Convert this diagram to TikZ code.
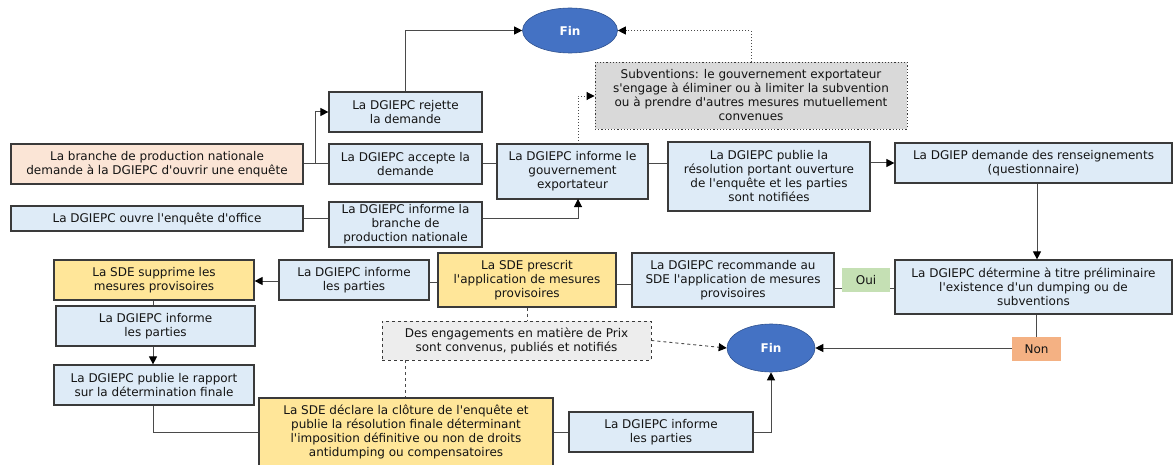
\documentclass[tikz,border=0pt]{standalone}
\usepackage{fontspec}
\newfontfamily\dvs{DejaVu Sans}
\usetikzlibrary{arrows.meta,shapes.geometric}
\definecolor{bluefill}{HTML}{DEEBF7}
\definecolor{orangefill}{HTML}{FBE5D6}
\definecolor{yellowfill}{HTML}{FFE699}
\definecolor{grayfill}{HTML}{D9D9D9}
\definecolor{lightgrayfill}{HTML}{EDEDED}
\definecolor{finblue}{HTML}{4472C4}
\definecolor{finborder}{HTML}{2F528F}
\definecolor{ouigreen}{HTML}{C5E0B4}
\definecolor{nonorange}{HTML}{F4B183}
\definecolor{bordergray}{HTML}{3A3A3A}
\definecolor{linegray}{HTML}{4A4A4A}
\definecolor{textgray}{HTML}{141414}
\tikzset{
  x=1pt, y=-1pt,
  box/.style={draw=bordergray, line width=1.2pt, fill=bluefill, align=center,
    inner sep=0pt, text=textgray,
    font=\dvs\fontsize{12}{14}\selectfont},
  orangebox/.style={box, fill=orangefill},
  yellowbox/.style={box, fill=yellowfill},
  subvbox/.style={box, fill=grayfill, dotted, line width=0.9pt},
  engbox/.style={box, fill=lightgrayfill, dashed, line width=0.9pt},
  finnode/.style={ellipse, fill=finblue, draw=finborder, line width=0.6pt,
    text=white, inner sep=0pt, font=\dvs\fontsize{12}{14}\selectfont\bfseries},
  tagnode/.style={inner sep=0pt, text=textgray, font=\dvs\fontsize{12}{14}\selectfont},
  conn/.style={draw=linegray, line width=1pt},
  tip/.style={-{Triangle[length=8pt,width=8pt,color=black]}},
  arr/.style={conn, tip},
  dotconn/.style={conn, dotted, line width=0.9pt},
  dashconn/.style={conn, dashed, line width=0.9pt},
}
\begin{document}
\begin{tikzpicture}
\useasboundingbox (0,0) rectangle (1174,465);

% boxes
\node[orangebox, minimum width=292pt, minimum height=40pt] (branche) at (157,164)
  {La branche de production nationale\\demande à la DGIEPC d'ouvrir une enquête};
\node[box, minimum width=292pt, minimum height=25pt] (office) at (157,218.5)
  {La DGIEPC ouvre l'enquête d'office};
\node[box, minimum width=153pt, minimum height=40pt] (rejette) at (405.5,112)
  {La DGIEPC rejette\\la demande};
\node[box, minimum width=153pt, minimum height=40pt] (accepte) at (405.5,164)
  {La DGIEPC accepte la\\demande};
\node[box, minimum width=153pt, minimum height=45pt] (infbranche) at (405.5,224.5)
  {La DGIEPC informe la\\branche de\\production nationale};
\node[finnode, minimum width=95pt, minimum height=45pt] (fin1) at (570,30.5) {Fin};
\node[subvbox, minimum width=312pt, minimum height=67pt] (subv) at (751,95.5)
  {Subventions: le gouvernement exportateur\\s'engage à éliminer ou à limiter la subvention\\ou à prendre d'autres mesures mutuellement\\convenues};
\node[box, minimum width=151pt, minimum height=55pt] (gouv) at (572.5,171.5)
  {La DGIEPC informe le\\gouvernement\\exportateur};
\node[box, minimum width=202pt, minimum height=69pt] (publie) at (769,176.5)
  {La DGIEPC publie la\\résolution portant ouverture\\de l'enquête et les parties\\sont notifiées};
\node[box, minimum width=277pt, minimum height=40pt] (renseign) at (1033.5,163)
  {La DGIEP demande des renseignements\\(questionnaire)};
\node[box, minimum width=277pt, minimum height=54pt] (determine) at (1033.5,287)
  {La DGIEPC détermine à titre préliminaire\\l'existence d'un dumping ou de\\subventions};
\node[box, minimum width=202pt, minimum height=54pt] (recommande) at (733,280)
  {La DGIEPC recommande au\\SDE l'application de mesures\\provisoires};
\node[yellowbox, minimum width=178pt, minimum height=54pt] (prescrit) at (527,280)
  {La SDE prescrit\\l'application de mesures\\provisoires};
\node[box, minimum width=150pt, minimum height=40pt] (infparties1) at (354,280)
  {La DGIEPC informe\\les parties};
\node[yellowbox, minimum width=200pt, minimum height=40pt] (supprime) at (154,280)
  {La SDE supprime les\\mesures provisoires};
\node[box, minimum width=199pt, minimum height=40pt] (infparties2) at (155.5,326)
  {La DGIEPC informe\\les parties};
\node[box, minimum width=200pt, minimum height=40pt] (rapport) at (154,385)
  {La DGIEPC publie le rapport\\sur la détermination finale};
\node[yellowbox, minimum width=294pt, minimum height=68pt] (declare) at (406,432)
  {La SDE déclare la clôture de l'enquête et\\publie la résolution finale déterminant\\l'imposition définitive ou non de droits\\antidumping ou compensatoires};
\node[engbox, minimum width=269pt, minimum height=39pt] (engage) at (516.5,340.5)
  {Des engagements en matière de Prix\\sont convenus, publiés et notifiés};
\node[box, minimum width=184pt, minimum height=40pt] (infparties3) at (661,432)
  {La DGIEPC informe\\les parties};
\node[finnode, minimum width=88pt, minimum height=48pt] (fin2) at (771,348) {Fin};

% connectors
\coordinate (split) at (315,164);
\draw[conn] (branche.east) -- (accepte.west);
\draw[arr] (split) |- (rejette.west);
\draw[conn] (office.east) -- (office.east -| infbranche.west);
\draw[arr] (rejette.north) |- (fin1.west);
\draw[conn] (accepte.east) -- (accepte.east -| gouv.west);
\coordinate (gx) at (578,199);
\draw[arr] (infbranche.east |- office.east) -| (gx);
\coordinate (gtop) at (578,144);
\draw[dotconn, tip] (gtop) |- (subv.west |- 0,96);
\draw[dotconn, tip] (subv.north) |- (fin1.east);
\draw[conn] (gouv.east |- 0,164) -- (publie.west |- 0,164);
\draw[arr] (publie.east |- renseign.west) -- (renseign.west);
\draw[arr] (renseign.south -| 1037,0) -- (determine.north -| 1037,0);
\draw[conn] (determine.west |- 0,288) -- (recommande.east |- 0,288);
\node[tagnode, fill=ouigreen, minimum width=48pt, minimum height=24pt] (oui) at (866,280) {Oui};
\draw[conn] (recommande.west |- 0,284) -- (prescrit.east |- 0,284);
\draw[conn] (prescrit.west |- 0,282) -- (infparties1.east |- 0,282);
\draw[arr] (infparties1.west |- 0,281) -- (supprime.east |- 0,281);
\draw[conn] (supprime.south -| 153,0) -- (infparties2.north -| 153,0);
\draw[arr] (infparties2.south -| 153,0) -- (rapport.north -| 153,0);
\draw[conn] (rapport.south -| 153,0) |- (declare.west |- 0,432);
\draw[conn] (declare.east |- 0,432) -- (infparties3.west);
\draw[arr] (infparties3.east) -| (fin2.south);
\node[tagnode, fill=nonorange, minimum width=49pt, minimum height=24pt] (non) at (1036.5,349) {Non};
\draw[conn] (determine.south -| non.north) -- (non.north);
\draw[arr] (non.west |- fin2.east) -- (fin2.east);
\draw[dashconn] (prescrit.south) -- (prescrit.south |- engage.north);
\draw[dashconn] (engage.south -| 405,0) -- (declare.north -| 405,0);
\draw[dashconn, tip] (engage.east) -- (fin2.west);
\end{tikzpicture}
\end{document}
